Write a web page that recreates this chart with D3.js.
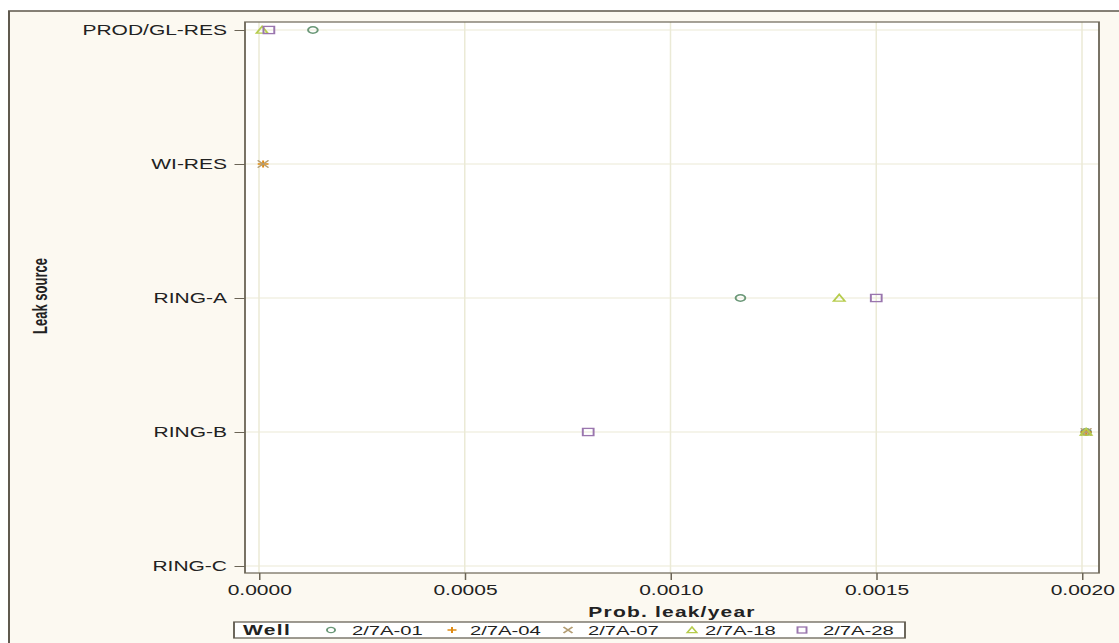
<!DOCTYPE html>
<html>
<head>
<meta charset="utf-8">
<script src="https://cdn.jsdelivr.net/npm/d3@7"></script>
<style>
  html, body { margin: 0; padding: 0; background: #ffffff; }
  svg { display: block; }
  text { font-family: "Liberation Sans", Arial, sans-serif; fill: #222; }
</style>
</head>
<body>
<svg id="chart" width="1119" height="643"></svg>
<script>
// Leak sources (y categories), wells (series) and x tick values
const categories = ["PROD/GL-RES", "WI-RES", "RING-A", "RING-B", "RING-C"];
const wells = ["2/7A-01", "2/7A-04", "2/7A-07", "2/7A-18", "2/7A-28"];
const xTicks = [0, 0.0005, 0.001, 0.0015, 0.002];

// Probability of leak per year, one array per well, aligned with categories
const well01 = [0.000131, null, 0.00117, 0.00201, null];
const well04 = [null, 0.00001, null, 0.00201, null];
const well07 = [null, 0.00001, null, 0.00201, null];
const well18 = [0.0000075, null, 0.00141, 0.00201, null];
const well28 = [0.000024, null, 0.0015, 0.0008, null];
const seriesValues = [well01, well04, well07, well18, well28];

const symbolOf = { "2/7A-01": "circle", "2/7A-04": "plus", "2/7A-07": "cross", "2/7A-18": "triangle", "2/7A-28": "square" };
const colorOf = { "2/7A-01": "#6b9878", "2/7A-04": "#e08a12", "2/7A-07": "#b39c72", "2/7A-18": "#b6cc4c", "2/7A-28": "#9a76ae" };

// The whole graphic is laid out in a narrower frame and stretched horizontally.
const SX = 1.5;
const W = 1119 / SX, H = 643;

const svg = d3.select("#chart");
const g = svg.append("g").attr("transform", `scale(${SX},1)`);

// Backgrounds and outer frame
g.append("rect").attr("x", 9 / SX).attr("y", 11).attr("width", W).attr("height", H)
  .attr("fill", "#fcf9f1");
g.append("path")
  .attr("d", `M${9 / SX},${H} V11 H${W}`)
  .attr("fill", "none").attr("stroke", "#5d574b").attr("stroke-width", 1.3);

const plot = { left: 245 / SX, right: 1099 / SX, top: 22, bottom: 573 };

g.append("rect")
  .attr("x", plot.left).attr("y", plot.top)
  .attr("width", plot.right - plot.left).attr("height", plot.bottom - plot.top)
  .attr("fill", "#ffffff");

const x = d3.scaleLinear().domain([0, 0.002]).range([259 / SX, 1082 / SX]);
const y = d3.scalePoint().domain(categories).range([30, 566]);

// Grid lines
const grid = g.append("g").attr("stroke", "#ebead6").attr("stroke-width", 1);
grid.selectAll("line.v").data(xTicks).join("line")
  .attr("x1", d => x(d)).attr("x2", d => x(d))
  .attr("y1", plot.top).attr("y2", plot.bottom);
grid.selectAll("line.h").data(categories).join("line")
  .attr("x1", plot.left).attr("x2", plot.right)
  .attr("y1", d => y(d)).attr("y2", d => y(d));

// Plot border
g.append("rect")
  .attr("x", plot.left).attr("y", plot.top)
  .attr("width", plot.right - plot.left).attr("height", plot.bottom - plot.top)
  .attr("fill", "none").attr("stroke", "#6b6456").attr("stroke-width", 1.2);

// Axes
const xAxis = d3.axisBottom(x).tickValues(xTicks).tickFormat(d3.format(".4f"))
  .tickSize(7).tickSizeOuter(0);
const xg = g.append("g").attr("transform", `translate(0,${plot.bottom})`).call(xAxis);
xg.select(".domain").remove();
xg.selectAll(".tick line").attr("stroke", "#6b6456").attr("stroke-width", 1);
xg.selectAll(".tick text").attr("font-size", 14).attr("fill", "#222")
  .attr("font-family", "Liberation Sans, Arial, sans-serif").attr("dy", "0.95em").attr("y", 9);

const yAxis = d3.axisLeft(y).tickSize(7).tickSizeOuter(0).tickPadding(5);
const yg = g.append("g").attr("transform", `translate(${plot.left},0)`).call(yAxis);
yg.select(".domain").remove();
yg.selectAll(".tick line").attr("stroke", "#6b6456").attr("stroke-width", 1);
yg.selectAll(".tick text").attr("font-size", 14).attr("fill", "#222")
  .attr("font-family", "Liberation Sans, Arial, sans-serif");

// Axis titles
g.append("text")
  .attr("x", (plot.left + plot.right) / 2).attr("y", 617)
  .attr("text-anchor", "middle").attr("font-size", 14).attr("font-weight", "bold")
  .attr("letter-spacing", 0.8).text("Prob. leak/year");

g.append("text")
  .attr("transform", `translate(${47 / SX},296) rotate(-90)`)
  .attr("text-anchor", "middle").attr("font-size", 13).attr("font-weight", "bold")
  .text("Leak source");

// Marker drawing
function drawSymbol(sel, kind, color, s) {
  const common = el => el.attr("fill", "none").attr("stroke", color).attr("stroke-width", 1.3);
  if (kind === "circle") {
    common(sel.append("circle").attr("r", s * 0.9));
  } else if (kind === "square") {
    common(sel.append("rect").attr("x", -s).attr("y", -s).attr("width", 2 * s).attr("height", 2 * s));
  } else if (kind === "triangle") {
    common(sel.append("path").attr("d", `M0,${-s} L${s * 1.05},${s * 0.85} L${-s * 1.05},${s * 0.85} Z`));
  } else if (kind === "plus") {
    common(sel.append("path").attr("d", `M${-s},0 H${s} M0,${-s} V${s}`));
  } else if (kind === "cross") {
    common(sel.append("path").attr("d", `M${-s},${-s} L${s},${s} M${-s},${s} L${s},${-s}`));
  }
}

// Points
const points = [];
wells.forEach((w, i) => {
  seriesValues[i].forEach((v, j) => {
    if (v !== null) points.push({ well: w, category: categories[j], value: v });
  });
});

g.append("g").selectAll("g.pt").data(points).join("g")
  .attr("class", "pt")
  .attr("transform", d => `translate(${x(d.value)},${y(d.category)})`)
  .each(function (d) { drawSymbol(d3.select(this), symbolOf[d.well], colorOf[d.well], 3.6); });

// Legend
const legend = g.append("g");
legend.append("rect")
  .attr("x", 234 / SX).attr("y", 622).attr("width", (905 - 234) / SX).attr("height", 16)
  .attr("fill", "#ffffff").attr("stroke", "#5d574b").attr("stroke-width", 1.2);
legend.append("text")
  .attr("x", 243 / SX).attr("y", 635).attr("font-size", 14).attr("font-weight", "bold")
  .attr("letter-spacing", 0.9).attr("fill", "#111").text("Well");

const legendSymbolX = [331, 452, 568, 692, 802];
const legendTextX = [352, 470, 588, 705, 823];
wells.forEach((w, i) => {
  const item = legend.append("g");
  const sym = item.append("g").attr("transform", `translate(${legendSymbolX[i] / SX},630)`);
  drawSymbol(sym, symbolOf[w], colorOf[w], 3.0);
  item.append("text")
    .attr("x", legendTextX[i] / SX).attr("y", 635)
    .attr("font-size", 13.5).attr("fill", "#222").text(w);
});
</script>
</body>
</html>
